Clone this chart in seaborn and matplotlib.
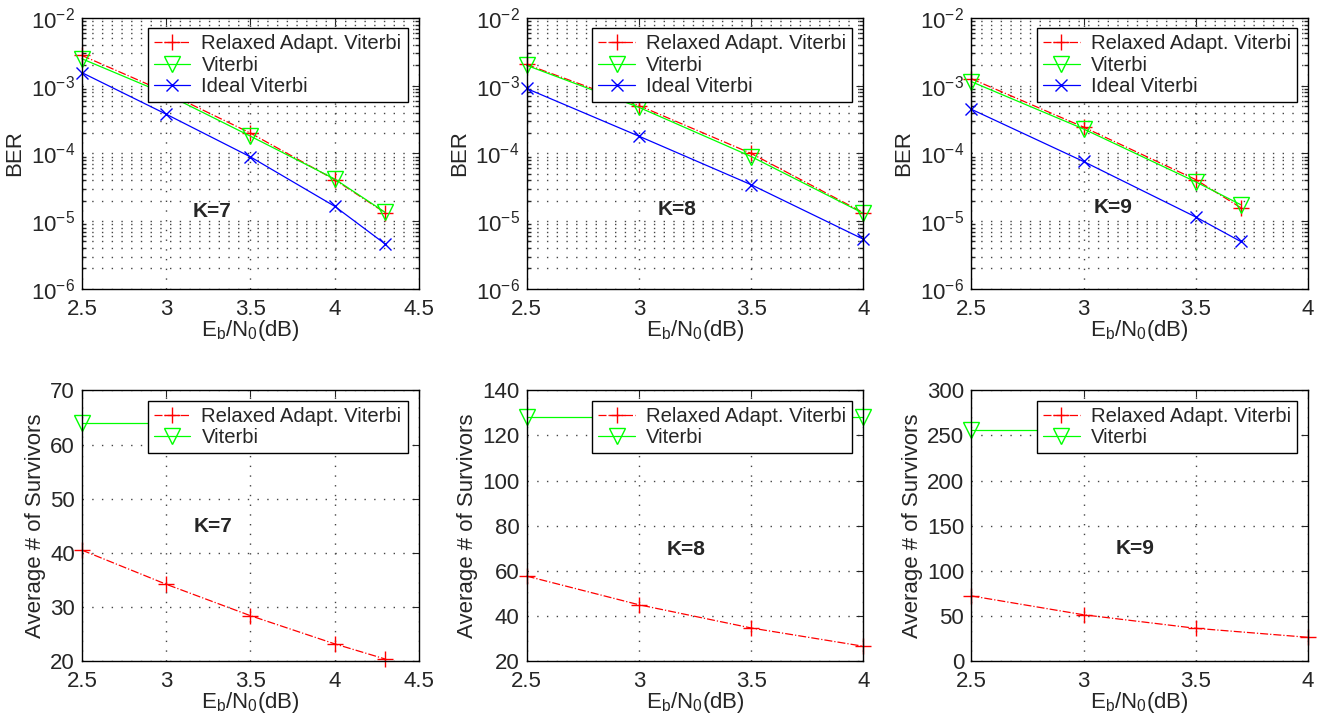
import matplotlib
matplotlib.use('Agg')
import matplotlib.pyplot as plt
import matplotlib.ticker as mticker
import seaborn as sns

# x values (Eb/N0 in dB) per constraint length
ebn0_k7 = [2.5, 3.0, 3.5, 4.0, 4.3]
ebn0_k8 = [2.5, 3.0, 3.5, 4.0]
ebn0_k9 = [2.5, 3.0, 3.5, 3.7]
ebn0_k9_surv = [2.5, 3.0, 3.5, 4.0]

# BER curves
ber_relaxed_k7 = [2.8e-3, 8.0e-4, 2.0e-4, 4.1e-5, 1.33e-5]
ber_viterbi_k7 = [2.5e-3, 7.5e-4, 1.8e-4, 4.2e-5, 1.35e-5]
ber_ideal_k7 = [1.56e-3, 3.8e-4, 8.9e-5, 1.66e-5, 4.6e-6]

ber_relaxed_k8 = [2.06e-3, 5.1e-4, 1.0e-4, 1.33e-5]
ber_viterbi_k8 = [2.0e-3, 4.8e-4, 9.0e-5, 1.3e-5]
ber_ideal_k8 = [9.1e-4, 1.8e-4, 3.45e-5, 5.4e-6]

ber_relaxed_k9 = [1.27e-3, 2.45e-4, 4.1e-5, 1.58e-5]
ber_viterbi_k9 = [1.15e-3, 2.3e-4, 3.8e-5, 1.75e-5]
ber_ideal_k9 = [4.5e-4, 7.6e-5, 1.15e-5, 5.0e-6]

# average number of survivors
surv_relaxed_k7 = [40.5, 34.2, 28.4, 23.2, 20.4]
surv_viterbi_k7 = [64, 64, 64, 64, 64]
surv_relaxed_k8 = [57.7, 45.0, 34.7, 26.6]
surv_viterbi_k8 = [128, 128, 128, 128]
surv_relaxed_k9 = [72.3, 51.4, 36.4, 26.4]
surv_viterbi_k9 = [256, 256, 256, 256]

k_labels = ['K=7', 'K=8', 'K=9']
surv_yticks_k7 = [20, 30, 40, 50, 60, 70]
surv_yticks_k8 = [20, 40, 60, 80, 100, 120, 140]
surv_yticks_k9 = [0, 50, 100, 150, 200, 250, 300]

sns.set_theme(style='white')
plt.rcParams['font.family'] = ['Liberation Sans', 'DejaVu Sans']
plt.rcParams['mathtext.default'] = 'regular'
plt.rcParams['axes.edgecolor'] = 'black'
plt.rcParams['axes.linewidth'] = 1.0

RED = (1, 0, 0)
GREEN = (0, 1, 0)
BLUE = (0, 0, 1)
GRID = dict(color='#444444', linestyle=(0, (1, 6)), linewidth=1.0)

fig, axes = plt.subplots(2, 3, figsize=(13.28, 7.21), dpi=100)
fig.subplots_adjust(left=0.0617, right=0.985, top=0.975, bottom=0.083,
                    wspace=0.32, hspace=0.375)


def draw_relaxed(ax, x, y):
    sns.lineplot(x=x, y=y, ax=ax, color=RED, linestyle='-.', linewidth=0.9,
                 marker='+', markersize=11, markeredgewidth=1.0,
                 markeredgecolor=RED, label='Relaxed Adapt. Viterbi', clip_on=False)


def draw_viterbi(ax, x, y):
    sns.lineplot(x=x, y=y, ax=ax, color=GREEN, linestyle='-', linewidth=0.9,
                 marker='v', markersize=11, markeredgewidth=1.0,
                 markeredgecolor=GREEN, markerfacecolor='none', label='Viterbi',
                 clip_on=False)


def draw_ideal(ax, x, y):
    sns.lineplot(x=x, y=y, ax=ax, color=BLUE, linestyle='-', linewidth=0.9,
                 marker='x', markersize=8, markeredgewidth=1.0,
                 markeredgecolor=BLUE, label='Ideal Viterbi', clip_on=False)


def style_axes(ax, xlim, xticks):
    ax.set_xlim(*xlim)
    ax.set_xticks(xticks)
    ax.set_xticklabels([f'{t:g}' for t in xticks])
    ax.tick_params(direction='in', top=True, right=True, labelsize=16,
                   length=5, width=0.8)
    ax.tick_params(axis='x', pad=7)
    ax.tick_params(axis='y', pad=5)
    ax.tick_params(which='minor', direction='in', left=True, right=True, length=3)
    ax.set_xlabel(r'E$_{b}$/N$_{0}$(dB)', fontsize=16, labelpad=-1)
    leg = ax.legend(loc='upper right', bbox_to_anchor=(0.967, 0.962),
                    borderaxespad=0, fontsize=14.6, frameon=True, fancybox=False,
                    handlelength=1.8, labelspacing=0.12, borderpad=0.3,
                    handletextpad=0.55)
    leg.get_frame().set_edgecolor('black')
    leg.get_frame().set_linewidth(1.0)
    leg.get_frame().set_alpha(1)
    leg.set_zorder(10)


# top row: BER
ber_sets = [
    (ebn0_k7, ber_relaxed_k7, ber_viterbi_k7, ber_ideal_k7, (2.5, 4.5), [2.5, 3, 3.5, 4, 4.5], (3.27, 1.4e-5)),
    (ebn0_k8, ber_relaxed_k8, ber_viterbi_k8, ber_ideal_k8, (2.5, 4.0), [2.5, 3, 3.5, 4], (3.17, 1.5e-5)),
    (ebn0_k9, ber_relaxed_k9, ber_viterbi_k9, ber_ideal_k9, (2.5, 4.0), [2.5, 3, 3.5, 4], (3.13, 1.6e-5)),
]
for ax, (x, rel, vit, ide, xlim, xt, kpos), klab in zip(axes[0], ber_sets, k_labels):
    ax.set_yscale('log')
    ax.set_ylim(1e-6, 1e-2)
    ax.yaxis.set_major_locator(mticker.LogLocator(base=10, numticks=10))
    ax.yaxis.set_minor_locator(mticker.LogLocator(base=10, subs=range(2, 10), numticks=10))
    ax.yaxis.set_minor_formatter(mticker.NullFormatter())
    ax.grid(True, which='major', axis='both', **GRID)
    ax.grid(True, which='minor', axis='y', **GRID)
    draw_relaxed(ax, x, rel)
    draw_viterbi(ax, x, vit)
    draw_ideal(ax, x, ide)
    style_axes(ax, xlim, xt)
    ax.set_ylabel('BER', fontsize=16, labelpad=4)
    ax.text(kpos[0], kpos[1], klab, fontsize=15, fontweight='bold',
            ha='center', va='center')

# bottom row: survivors
surv_sets = [
    (ebn0_k7, surv_relaxed_k7, ebn0_k7, surv_viterbi_k7, (2.5, 4.5), [2.5, 3, 3.5, 4, 4.5], surv_yticks_k7, (3.28, 44.8)),
    (ebn0_k8, surv_relaxed_k8, ebn0_k8, surv_viterbi_k8, (2.5, 4.0), [2.5, 3, 3.5, 4], surv_yticks_k8, (3.21, 69.5)),
    (ebn0_k9_surv, surv_relaxed_k9, ebn0_k9, surv_viterbi_k9, (2.5, 4.0), [2.5, 3, 3.5, 4], surv_yticks_k9, (3.23, 124.5)),
]
for ax, (xr, rel, xv, vit, xlim, xt, yt, kpos), klab in zip(axes[1], surv_sets, k_labels):
    ax.set_ylim(yt[0], yt[-1])
    ax.set_yticks(yt)
    ax.grid(True, which='major', axis='both', **GRID)
    draw_relaxed(ax, xr, rel)
    draw_viterbi(ax, xv, vit)
    style_axes(ax, xlim, xt)
    ax.set_ylabel('Average # of Survivors', fontsize=16, labelpad=3)
    ax.text(kpos[0], kpos[1], klab, fontsize=15, fontweight='bold',
            ha='center', va='center')

for ax in axes.flat:
    ax.set_axisbelow(True)
    for sp in ax.spines.values():
        sp.set_visible(True)
        sp.set_color('black')

fig.savefig('out.png', dpi=100, facecolor='white')
